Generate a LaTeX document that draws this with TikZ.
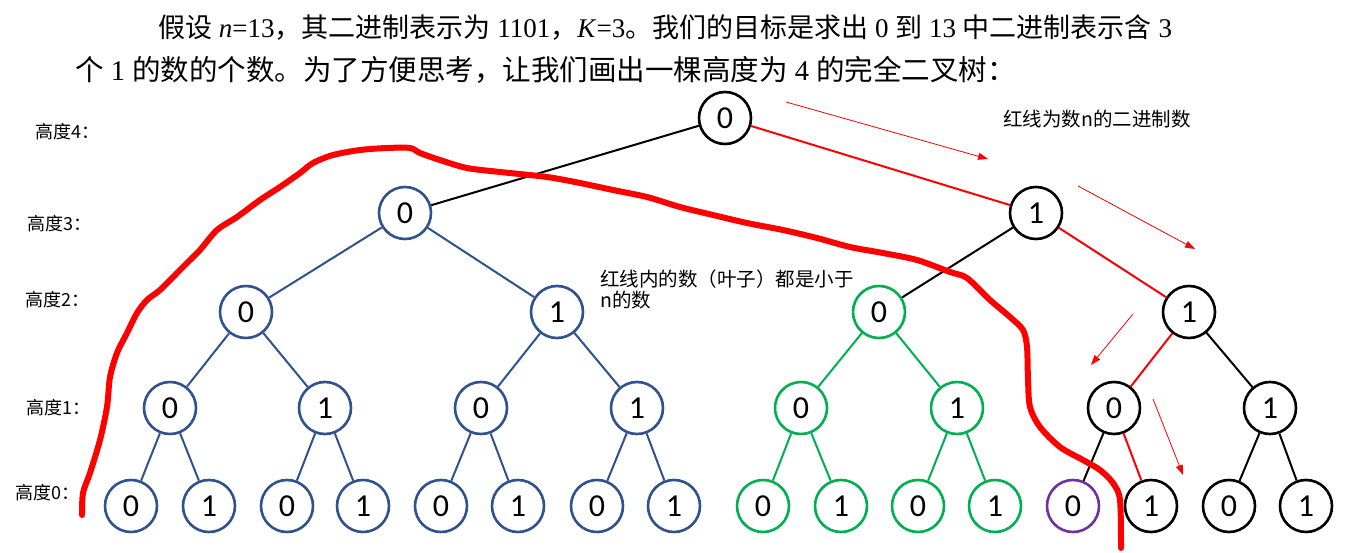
\documentclass[tikz,border=0pt]{standalone}
\usepackage{fontspec}
\setmainfont{Liberation Serif}
\newfontfamily\cjk{Noto Sans CJK SC}
\newfontfamily\dfont{Carlito}
\usetikzlibrary{arrows.meta}
\definecolor{tblue}{HTML}{2F528F}
\definecolor{tgreen}{HTML}{00B050}
\definecolor{tpurple}{HTML}{7030A0}
\definecolor{tred}{HTML}{FF0000}
\begin{document}
\begin{tikzpicture}[x=1pt,y=-1pt,
  nd/.style={circle,draw=black,line width=2.6pt,minimum size=52pt,inner sep=0pt,font=\dfont\fontsize{32}{32}\selectfont},
  bnd/.style={nd,draw=tblue},
  gnd/.style={nd,draw=tgreen},
  pnd/.style={nd,draw=tpurple},
  conn/.style={line width=2pt,draw=black},
  bconn/.style={conn,draw=tblue},
  gconn/.style={conn,draw=tgreen},
  rconn/.style={conn,draw=tred},
  hint/.style={draw=tred,line width=0.8pt,-{Triangle[length=10pt,width=7pt]}},
  lbl/.style={anchor=west,inner sep=0pt,font=\cjk\fontsize{18}{18}\selectfont},
  note/.style={anchor=west,inner sep=0pt,align=left,font=\cjk\fontsize{19.5}{21}\selectfont},
  topa/.style={anchor=west,inner sep=0pt,font=\fontsize{27}{27}\selectfont},
  topb/.style={anchor=west,inner sep=0pt,font=\fontsize{28.5}{28.5}\selectfont},
]
\useasboundingbox (0,0) rectangle (1350,553);

% top text
\node[topa] (t1) at (158,28) {{\cjk 假设} \textit{n}=13{\cjk ，其二进制表示为} 1101{\cjk ，}\textit{K}=3{\cjk 。我们的目标是求出} 0 {\cjk 到} 13 {\cjk 中二进制表示含} 3};
\node[topb] (t2) at (75,70) {{\cjk 个} 1 {\cjk 的数的个数。为了方便思考，让我们画出一棵高度为} 4 {\cjk 的完全二叉树：}};

% level labels
\node[lbl] (l4) at (35,132) {高度4：};
\node[lbl] (l3) at (27,224) {高度3：};
\node[lbl] (l2) at (25,300) {高度2：};
\node[lbl] (l1) at (26,408) {高度1：};
\node[lbl] (l0) at (15,493) {高度0：};

% notes
\node[note] (n1) at (1003,119) {红线为数n的二进制数};
\node[note,anchor=north west] (n2) at (600,270) {红线内的数（叶子）都是小于\\n的数};

% nodes
\node[nd] (r) at (725,118) {0};
\node[bnd] (h3a) at (405,213) {0};
\node[nd] (h3b) at (1036,213) {1};
\node[bnd] (h2a) at (246,312) {0};
\node[bnd] (h2b) at (557,312) {1};
\node[gnd] (h2c) at (879,312) {0};
\node[nd] (h2d) at (1189,312) {1};
\node[bnd] (h1a) at (170,408) {0};
\node[bnd] (h1b) at (325,408) {1};
\node[bnd] (h1c) at (481,408) {0};
\node[bnd] (h1d) at (637,408) {1};
\node[gnd] (h1e) at (801,408) {0};
\node[gnd] (h1f) at (957,408) {1};
\node[nd] (h1g) at (1114,408) {0};
\node[nd] (h1h) at (1270,408) {1};
\node[bnd] (h0a) at (131,506) {0};
\node[bnd] (h0b) at (209,506) {1};
\node[bnd] (h0c) at (287,506) {0};
\node[bnd] (h0d) at (363,506) {1};
\node[bnd] (h0e) at (441,506) {0};
\node[bnd] (h0f) at (518,506) {1};
\node[bnd] (h0g) at (597,506) {0};
\node[bnd] (h0h) at (674,506) {1};
\node[gnd] (h0i) at (763,506) {0};
\node[gnd] (h0j) at (841,506) {1};
\node[gnd] (h0k) at (918,506) {0};
\node[gnd] (h0l) at (995,506) {1};
\node[pnd] (h0m) at (1073,506) {0};
\node[nd] (h0n) at (1151,506) {1};
\node[nd] (h0o) at (1229,506) {0};
\node[nd] (h0p) at (1306,506) {1};

% connectors
\draw[conn] (r) -- (h3a);
\draw[rconn] (r) -- (h3b);
\draw[bconn] (h3a) -- (h2a);
\draw[bconn] (h3a) -- (h2b);
\draw[conn] (h3b) -- (h2c);
\draw[rconn] (h3b) -- (h2d);
\draw[bconn] (h2a) -- (h1a);
\draw[bconn] (h2a) -- (h1b);
\draw[bconn] (h2b) -- (h1c);
\draw[bconn] (h2b) -- (h1d);
\draw[gconn] (h2c) -- (h1e);
\draw[gconn] (h2c) -- (h1f);
\draw[rconn] (h2d) -- (h1g);
\draw[conn] (h2d) -- (h1h);
\draw[bconn] (h1a) -- (h0a);
\draw[bconn] (h1a) -- (h0b);
\draw[bconn] (h1b) -- (h0c);
\draw[bconn] (h1b) -- (h0d);
\draw[bconn] (h1c) -- (h0e);
\draw[bconn] (h1c) -- (h0f);
\draw[bconn] (h1d) -- (h0g);
\draw[bconn] (h1d) -- (h0h);
\draw[gconn] (h1e) -- (h0i);
\draw[gconn] (h1e) -- (h0j);
\draw[gconn] (h1f) -- (h0k);
\draw[gconn] (h1f) -- (h0l);
\draw[conn] (h1g) -- (h0m);
\draw[rconn] (h1g) -- (h0n);
\draw[conn] (h1h) -- (h0o);
\draw[conn] (h1h) -- (h0p);

% thin red hint arrows
\coordinate (a1s) at (786,102); \coordinate (a1e) at (988,159);
\coordinate (a2s) at (1078,186); \coordinate (a2e) at (1195,249);
\coordinate (a3s) at (1133,314); \coordinate (a3e) at (1091,365);
\coordinate (a4s) at (1153,399); \coordinate (a4e) at (1183,475);
\draw[hint] (a1s) -- (a1e);
\draw[hint] (a2s) -- (a2e);
\draw[hint] (a3s) -- (a3e);
\draw[hint] (a4s) -- (a4e);

% thick hand-drawn red boundary
\draw[tred,line width=6pt,line cap=round,line join=round] plot[smooth,tension=0.5] coordinates {
(82,515) (83,493) (90,473) (100,440) (107,407) (110,377) (117,353) (127,333) (137,313) (147,300) (160,290) (177,273) (190,260) (200,250) (217,230) (237,217) (260,200) (280,187) (300,173) (313,163) (333,155) (360,150) (387,148) (410,148) (420,153) (440,160) (467,168) (500,172) (547,177) (580,183) (613,190) (647,197) (680,207) (713,215) (747,223) (783,230) (817,238) (850,247) (883,253) (917,260) (950,272) (967,278) (990,300) (1010,317) (1023,330) (1027,347) (1028,380) (1030,407) (1040,427) (1060,447) (1083,460) (1100,470) (1113,483) (1120,500) (1121,548)};
\end{tikzpicture}
\end{document}
